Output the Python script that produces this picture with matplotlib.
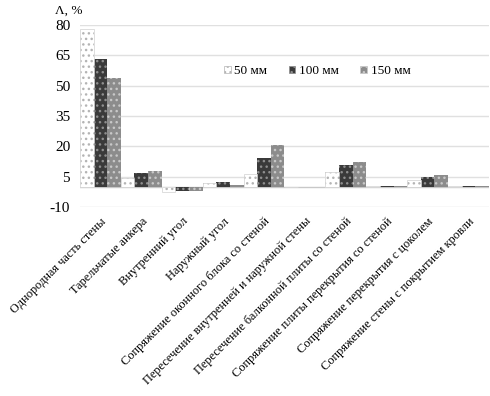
import matplotlib
matplotlib.use("Agg")
import matplotlib.pyplot as plt
from matplotlib.patches import Patch
import numpy as np

plt.rcParams['font.family'] = ['Liberation Serif', 'DejaVu Serif']
plt.rcParams['hatch.linewidth'] = 1.0
plt.rcParams['axes.unicode_minus'] = False

categories = [
    'Однородная часть стены',
    'Тарельчатые анкера',
    'Внутренний угол',
    'Наружный угол',
    'Сопряжение оконного блока со стеной',
    'Пересечение внутренней и наружной стены',
    'Пересечение балконной плиты со стеной',
    'Сопряжение плиты перекрытия со стеной',
    'Сопряжение перекрытия с цоколем',
    'Сопряжение стены с покрытием кровли',
]
series_names = ['50 мм', '100 мм', '150 мм']
vals_50 = [78.0, 4.5, -2.5, 2.1, 6.6, -0.3, 7.1, 0.2, 3.3, 0.2]
vals_100 = [63.2, 6.9, -2.0, 2.5, 14.2, -0.3, 10.9, 0.2, 5.0, 0.2]
vals_150 = [53.8, 7.9, -2.0, 1.0, 20.8, -0.3, 12.4, 0.2, 5.8, 0.2]
yticks = [-10, 5, 20, 35, 50, 65, 80]

fig = plt.figure(figsize=(4.9, 3.96), dpi=100)
ax = fig.add_axes([0.163, 0.477, 0.835, 0.46])

x = np.arange(len(categories))
w = 1 / 3
styles = [
    ('white', '#b4b4b4', '...'),
    ('#3a3a3a', '#8e8e8e', '...'),
    ('#8c8c8c', '#c8c8c8', '...'),
]
all_vals = [vals_50, vals_100, vals_150]
for i, (vals, (fc, hc, hatch)) in enumerate(zip(all_vals, styles)):
    pos = x + (i - 1) * w
    ax.bar(pos, vals, width=w, color=fc, edgecolor='none', zorder=2)
    ax.bar(pos, vals, width=w, color='none', edgecolor=hc, hatch=hatch,
           linewidth=0, zorder=3)
    if i == 0:
        ax.bar(pos, vals, width=w, color='none', edgecolor='#d8d8d8',
               linewidth=0.6, zorder=3)

ax.set_ylim(-10, 80)
ax.set_xlim(-0.5, len(categories) - 0.5)
ax.set_yticks(yticks)
ax.grid(axis='y', color='#e0e0e0', linewidth=1, zorder=0)
ax.axhline(0, color='#c8c8c8', linewidth=1, zorder=1)
for s in ax.spines.values():
    s.set_visible(False)
ax.tick_params(axis='y', length=0, labelsize=11, pad=7)
ax.tick_params(axis='x', length=0, labelsize=8.9, pad=6)
ax.set_xticks(x)
ax.set_xticklabels(categories, rotation=45, ha='right', rotation_mode='anchor')

fig.text(0.113, 0.972, 'Λ, %', fontsize=9.5, ha='left', va='center')

handles = [Patch(facecolor=fc, edgecolor=hc, hatch=h, linewidth=0.5)
           for fc, hc, h in styles]
ax.legend(handles, series_names, loc='center', bbox_to_anchor=(0.58, 0.747),
          ncol=3, frameon=False, fontsize=9.5, handlelength=0.5,
          handleheight=0.5, handletextpad=0.3, columnspacing=1.6)

fig.savefig('out.png', dpi=100)
